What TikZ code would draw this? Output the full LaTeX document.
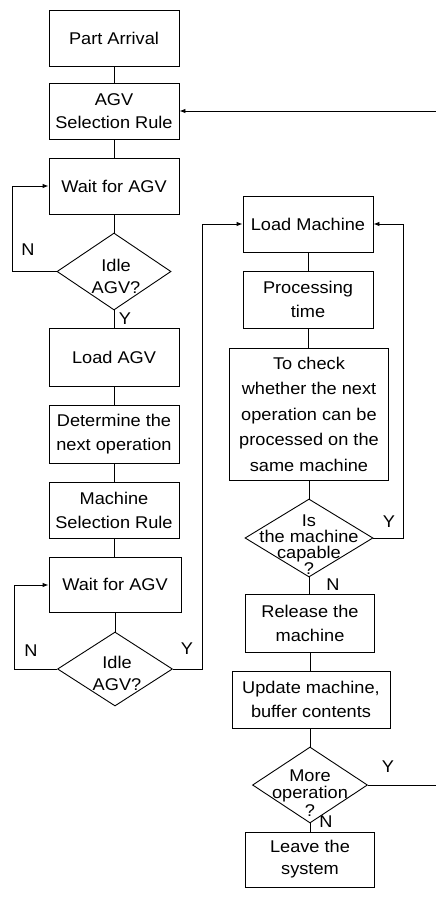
\documentclass[tikz,border=0pt]{standalone}
\usepackage{fontspec}
\setmainfont{Liberation Sans}[FakeStretch=1.07]
\usetikzlibrary{shapes.geometric,arrows.meta}
\begin{document}
\begin{tikzpicture}[x=1pt,y=-1pt,
  line width=0.9pt,
  every node/.style={font=\fontsize{17}{24}\selectfont},
  box/.style={draw, rectangle, align=center, inner sep=0pt},
  dia/.style={draw, diamond, inner sep=0pt, minimum width=#1},
  dtext/.style={align=center, inner sep=0pt},
  lbl/.style={inner sep=0pt},
  arr/.style={-{Latex[length=6pt,width=4.5pt]}},
]
\useasboundingbox (0,0) rectangle (436,898);
% left column
\node[box, minimum width=130pt, minimum height=56pt] (pa) at (114,38) {Part Arrival};
\node[box, minimum width=130pt, minimum height=56pt, font=\fontsize{17}{22.5}\selectfont] (asr) at (114,111) {AGV\\Selection Rule};
\node[box, minimum width=130pt, minimum height=56pt] (w1) at (114,186) {Wait for AGV};
\node[dia=114pt, minimum height=77pt] (d1) at (114,271.5) {};
\node[dtext, font=\fontsize{17}{22}\selectfont] at (116,276) {Idle\\AGV?};
\node[box, minimum width=130pt, minimum height=58pt] (lagv) at (114,357) {Load AGV};
\node[box, minimum width=130pt, minimum height=58pt] (det) at (114,434) {Determine the\\next operation};
\node[box, minimum width=130pt, minimum height=56pt] (msr) at (114,510) {Machine\\Selection Rule};
\node[box, minimum width=132pt, minimum height=55pt] (w2) at (115,584.5) {Wait for AGV};
\node[dia=115pt, minimum height=74pt] (d2) at (115,669) {};
\node[dtext, font=\fontsize{17}{22}\selectfont] at (117,673) {Idle\\AGV?};
% right column
\node[box, minimum width=130pt, minimum height=56pt] (lm) at (308,224) {Load Machine};
\node[box, minimum width=130pt, minimum height=57pt] (pt) at (308,299.5) {Processing\\time};
\node[box, minimum width=159pt, minimum height=132pt, font=\fontsize{17}{25.5}\selectfont] (chk) at (309,414) {To check\\whether the next\\operation can be\\processed on the\\same machine};
\node[dia=128pt, minimum height=78pt] (d3) at (309,538) {};
\node[dtext, font=\fontsize{17}{16}\selectfont] at (309,545) {Is\\the machine\\capable\\?};
\node[box, minimum width=129pt, minimum height=58pt] (rel) at (310,623) {Release the\\machine};
\node[box, minimum width=158pt, minimum height=57pt] (upd) at (311,699.5) {Update machine,\\buffer contents};
\node[dia=115pt, minimum height=76pt] (d4) at (310,785) {};
\node[dtext, font=\fontsize{17}{17.5}\selectfont] at (310,793) {More\\operation\\?};
\node[box, minimum width=129pt, minimum height=55pt, font=\fontsize{17}{22}\selectfont] (lv) at (310,859.5) {Leave the\\system};
% coordinates
\coordinate (l1) at (12,186);
\coordinate (l2) at (14,585);
\coordinate (r2) at (202,224);
\coordinate (r3) at (403,224);
\coordinate (e1) at (436,111);
\coordinate (e4) at (436,785);
% vertical connectors
\draw (pa) -- (asr);
\draw (asr) -- (w1);
\draw (w1) -- (d1.north);
\draw (d1.south) -- (lagv);
\draw (lagv) -- (det);
\draw (det) -- (msr);
\draw (msr.south) -- (w2.north -| msr.south);
\draw (w2) -- (d2.north);
\draw (lm) -- (pt);
\draw (pt.south) -- (chk.north -| pt.south);
\draw (chk) -- (d3.north);
\draw (d3.south) -- (rel.north -| d3.south);
\draw (rel) -- (upd.north -| rel.south);
\draw (upd.south -| d4.north) -- (d4.north);
\draw (d4.south) -- (lv.north -| d4.south);
% loops
\draw[arr] (d1.west) -| (l1) -- (w1.west);
\draw[arr] (d2.west) -| (l2) -- (w2.west |- l2);
\draw[arr] (d2.east) -| (r2) -- (lm.west);
\draw[arr] (d3.east) -| (r3) -- (lm.east);
\draw[arr] (e1) -- (asr.east);
\draw (d4.east) -- (e4);
% labels
\node[lbl] at (28,250) {N};
\node[lbl] at (125,319) {Y};
\node[lbl] at (31,651) {N};
\node[lbl] at (187,649) {Y};
\node[lbl] at (389,522) {Y};
\node[lbl] at (333,585) {N};
\node[lbl] at (388,767) {Y};
\node[lbl] at (326,822) {N};
\end{tikzpicture}
\end{document}
